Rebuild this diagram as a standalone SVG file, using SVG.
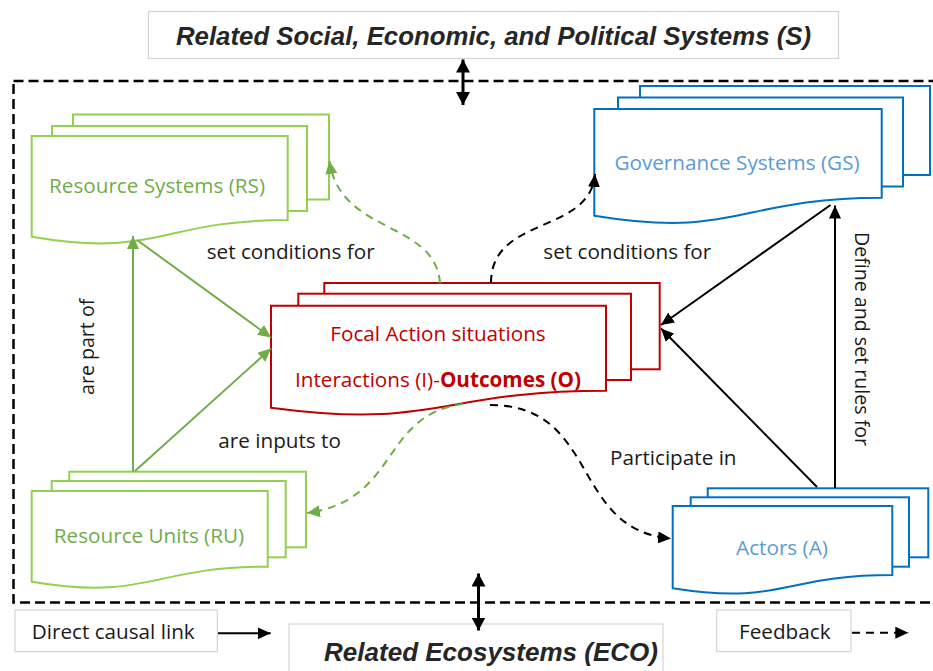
<svg xmlns="http://www.w3.org/2000/svg" width="933" height="671" viewBox="0 0 933 671">
  <style>
    .lbl { font-family: "Open Sans", "DejaVu Sans", sans-serif; font-size: 20.7px; fill: #1a1a1a; }
    .lbl-v { font-family: "Open Sans", "DejaVu Sans", sans-serif; font-size: 19.6px; fill: #1a1a1a; }
    .title { font-family: "Liberation Sans", Arial, sans-serif; font-weight: bold; font-style: italic; fill: #262626; text-anchor: middle; }
    .frame { fill: #ffffff; stroke: #d4d4d4; stroke-width: 1.2; }
    .g-box { fill: #ffffff; stroke: #92D050; stroke-width: 2; }
    .b-box { fill: #ffffff; stroke: #0070C0; stroke-width: 2; }
    .r-box { fill: #ffffff; stroke: #C00000; stroke-width: 2; }
    .g-txt { font-family: "Open Sans", "DejaVu Sans", sans-serif; font-size: 20.7px; fill: #70AD47; text-anchor: middle; }
    .b-txt { font-family: "Open Sans", "DejaVu Sans", sans-serif; font-size: 20.7px; fill: #5B9BD5; text-anchor: middle; }
    .r-txt { font-family: "Open Sans", "DejaVu Sans", sans-serif; font-size: 20.7px; fill: #C00000; text-anchor: middle; }
    .g-solid { fill: none; stroke: #70AD47; stroke-width: 2; marker-end: url(#ah-green); }
    .g-dash { fill: none; stroke: #70AD47; stroke-width: 2; stroke-dasharray: 8 6; marker-end: url(#ah-green); }
    .k-solid { fill: none; stroke: #000000; stroke-width: 2; marker-end: url(#ah-black); }
    .k-dash { fill: none; stroke: #000000; stroke-width: 2; stroke-dasharray: 8 6; marker-end: url(#ah-black); }
    .dbl { fill: none; stroke: #000000; stroke-width: 3; marker-start: url(#ah-big); marker-end: url(#ah-big); }
  </style>
  <defs>
    <marker id="ah-green" markerUnits="userSpaceOnUse" markerWidth="14" markerHeight="12" refX="13" refY="6" orient="auto">
      <path d="M0,0 L13,6 L0,12 Z" fill="#70AD47"/>
    </marker>
    <marker id="ah-black" markerUnits="userSpaceOnUse" markerWidth="14" markerHeight="12" refX="13" refY="6" orient="auto">
      <path d="M0,0 L13,6 L0,12 Z" fill="#000000"/>
    </marker>
    <marker id="ah-big" markerUnits="userSpaceOnUse" markerWidth="14" markerHeight="14" refX="13" refY="7" orient="auto-start-reverse">
      <path d="M0,0 L13,7 L0,14 Z" fill="#000000"/>
    </marker>
  </defs>

  <rect width="933" height="671" fill="#ffffff"/>

  <!-- system boundary -->
  <rect x="13.5" y="81" width="940" height="521.5" fill="none" stroke="#000000" stroke-width="2.5" stroke-dasharray="10 5"/>

  <!-- outer context boxes -->
  <g id="social-systems">
    <rect class="frame" x="148.5" y="11.5" width="690" height="47"/>
    <text class="title" x="493.5" y="45" font-size="25.8">Related Social, Economic, and Political Systems (S)</text>
  </g>
  <g id="ecosystems">
    <rect class="frame" x="289" y="624" width="374" height="60"/>
    <text class="title" x="491" y="661" font-size="26">Related Ecosystems (ECO)</text>
  </g>

  <!-- Resource Systems -->
  <g id="resource-systems">
    <rect class="g-box" x="73" y="114.5" width="256" height="85"/>
    <rect class="g-box" x="52" y="126" width="255" height="85"/>
    <path class="g-box" d="M31.7,136 H287.7 V220 C159.7,220 159.7,258.6 31.7,236.7 Z"/>
    <text class="g-txt" x="157" y="193">Resource Systems (RS)</text>
  </g>

  <!-- Governance Systems -->
  <g id="governance-systems">
    <rect class="b-box" x="640" y="86" width="290" height="89"/>
    <rect class="b-box" x="618" y="97.5" width="285" height="89"/>
    <path class="b-box" d="M594.3,109 H881.7 V197.7 C738,197.7 738,239.3 594.3,215.7 Z"/>
    <text class="b-txt" x="737" y="170">Governance Systems (GS)</text>
  </g>

  <!-- Focal Action situations -->
  <g id="focal-action-situations">
    <rect class="r-box" x="324.3" y="283" width="335.4" height="86.3"/>
    <rect class="r-box" x="298.3" y="293.7" width="332.7" height="86.3"/>
    <path class="r-box" d="M271,305.7 H606 V390.7 C438.5,390.7 438.5,430 271,407.7 Z"/>
    <text class="r-txt" x="438" y="340.7">Focal Action situations</text>
    <text class="r-txt" x="438" y="386.7">Interactions (I)-<tspan font-weight="bold">Outcomes (O)</tspan></text>
  </g>

  <!-- Resource Units -->
  <g id="resource-units">
    <rect class="g-box" x="69.3" y="471.7" width="236.7" height="75.6"/>
    <rect class="g-box" x="51.7" y="481" width="234" height="76.3"/>
    <path class="g-box" d="M31.7,491 H267.7 V566.7 C149.7,566.7 149.7,601.3 31.7,581.7 Z"/>
    <text class="g-txt" x="149" y="543.3">Resource Units (RU)</text>
  </g>

  <!-- Actors -->
  <g id="actors">
    <rect class="b-box" x="707.7" y="488.3" width="220.6" height="69"/>
    <rect class="b-box" x="690.7" y="497.3" width="218.3" height="69.4"/>
    <path class="b-box" d="M672.7,506 H892.3 V575 C782.5,575 782.5,605.7 672.7,588.3 Z"/>
    <text class="b-txt" x="782" y="555">Actors (A)</text>
  </g>

  <!-- connectors -->
  <g id="connectors">
    <path class="g-solid" d="M133,471.7 V236"/>
    <path class="g-solid" d="M137,240 L271,337.5"/>
    <path class="g-solid" d="M135,471 L271,348.5"/>
    <path class="g-dash" d="M440,283 C435,220 340,235 329.5,161"/>
    <path class="g-dash" d="M463,404 C380,415 400,500 307,513"/>
    <path class="k-dash" d="M491,283 C491,215 590,235 595,174"/>
    <path class="k-dash" d="M490,405 C600,405 570,530 671,538.5"/>
    <path class="k-solid" d="M830.5,205 L661,325"/>
    <path class="k-solid" d="M817,487 L661,328.5"/>
    <path class="k-solid" d="M835,488 V205.5"/>
    <path class="dbl" d="M463,59.5 V105"/>
    <path class="dbl" d="M478.5,573.5 V630.5"/>
  </g>

  <!-- connector labels -->
  <g id="labels">
    <text class="lbl" x="206.7" y="259.3">set conditions for</text>
    <text class="lbl" x="543.3" y="259.3">set conditions for</text>
    <text class="lbl" x="218.3" y="448.3">are inputs to</text>
    <text class="lbl" x="610" y="465">Participate in</text>
    <text class="lbl-v" transform="translate(94,395) rotate(-90)">are part of</text>
    <text class="lbl-v" transform="translate(855,232) rotate(90)">Define and set rules for</text>
  </g>

  <!-- legend -->
  <g id="legend-direct">
    <rect class="frame" x="15" y="610" width="202.3" height="41.7"/>
    <text class="lbl" x="31.7" y="639">Direct causal link</text>
    <path d="M218,633.3 H270.7" fill="none" stroke="#000000" stroke-width="2" marker-end="url(#ah-black)"/>
  </g>
  <g id="legend-feedback">
    <rect class="frame" x="716.7" y="610" width="134.3" height="41.7"/>
    <text class="lbl" x="739" y="639">Feedback</text>
    <path d="M852,632.7 H908.3" fill="none" stroke="#000000" stroke-width="2" stroke-dasharray="8 6" marker-end="url(#ah-black)"/>
  </g>
</svg>
